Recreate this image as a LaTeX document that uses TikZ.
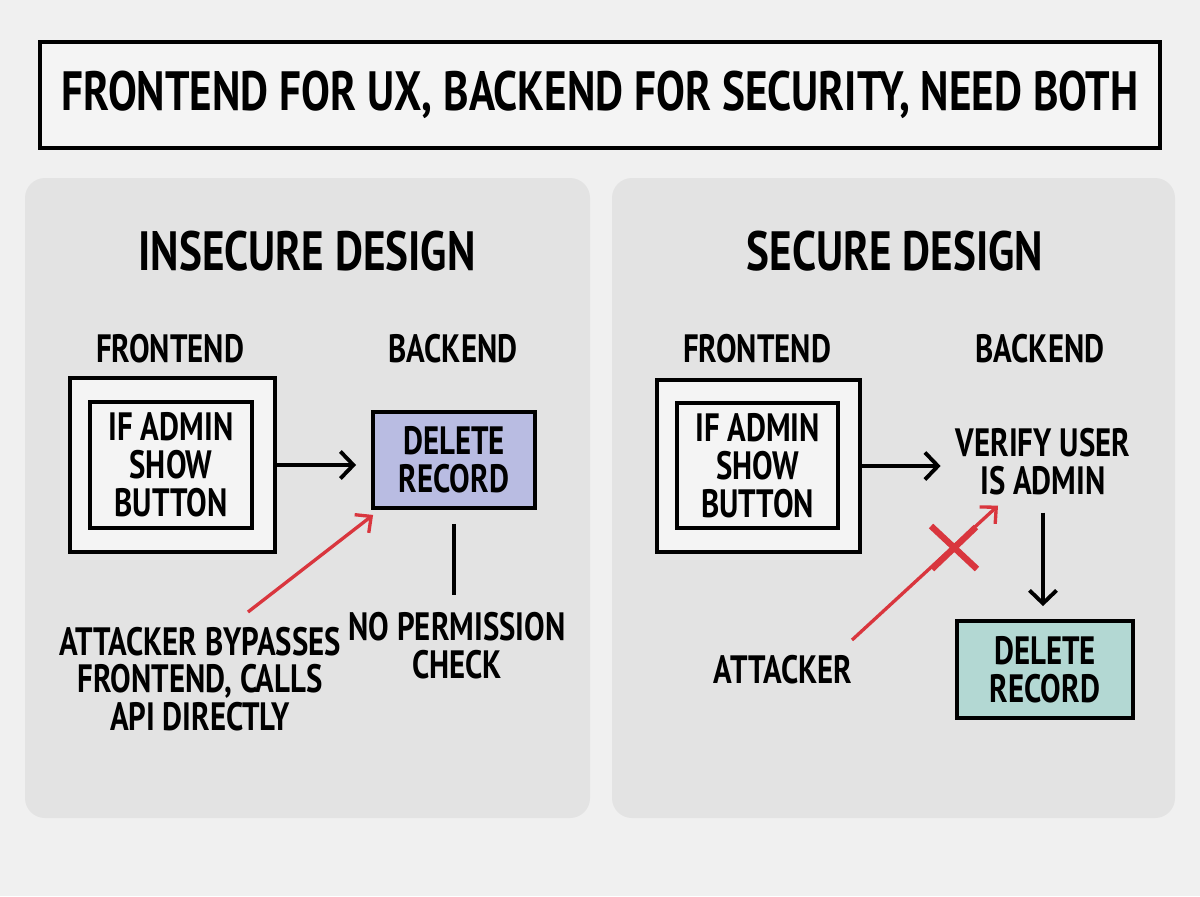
\documentclass[tikz,border=0pt]{standalone}
\usepackage{fontspec}
\setmainfont{PT Sans}[FakeStretch=0.78]
\usetikzlibrary{arrows.meta}
\definecolor{pagebg}{HTML}{F0F0F0}
\definecolor{panelbg}{HTML}{E3E3E3}
\definecolor{boxbg}{HTML}{F4F4F4}
\definecolor{lavender}{HTML}{B9BCE2}
\definecolor{mint}{HTML}{B3D8D3}
\definecolor{alertred}{HTML}{D9363E}
\begin{document}
\begin{tikzpicture}[x=0.02cm, y=-0.02cm,
    txt/.style={font=\bfseries\fontsize{22.5}{21.5}\selectfont, align=center, inner sep=0pt},
    heading/.style={font=\bfseries\fontsize{31.5}{33}\selectfont, inner sep=0pt},
    frame/.style={draw, line width=2.2pt},
    panel/.style={fill=panelbg, rounded corners=0.4cm},
    link/.style={line width=2.2pt, -{Straight Barb[length=2.6mm, width=5.4mm, line width=2.2pt]}},
    attack/.style={alertred, line width=1.9pt, -{Straight Barb[length=2.4mm, width=4.6mm, line width=1.9pt]}}]
    \useasboundingbox[fill=pagebg] (0,0) rectangle (1200,896);

    \fill[panel] (25,178) rectangle (590,818);
    \fill[panel] (612,178) rectangle (1175,818);

    \node[frame, fill=boxbg, minimum width=22.4cm, minimum height=2.12cm, heading] (title) at (600,95) {FRONTEND FOR UX, BACKEND FOR SECURITY, NEED BOTH};

    \node[heading] (insecure) at (307,251) {INSECURE DESIGN};
    \node[txt] (lfronthead) at (170,349) {FRONTEND};
    \node[txt] (lbackhead) at (453,349) {BACKEND};
    \node[frame, fill=boxbg, minimum width=4.1cm, minimum height=3.48cm] (lfront) at (172.5,465) {};
    \node[frame, minimum width=3.24cm, minimum height=2.52cm, txt] (lcheck) at (171,465) {IF ADMIN\\SHOW\\BUTTON};
    \node[frame, fill=lavender, minimum width=3.24cm, minimum height=1.92cm, txt] (ldelete) at (454,460) {DELETE\\RECORD};
    \node[txt] (lnoperm) at (457,646) {NO PERMISSION\\CHECK};
    \node[txt] (lattacker) at (200,679) {ATTACKER BYPASSES\\FRONTEND, CALLS\\API DIRECTLY};
    \coordinate (lattackstart) at (248,612);

    \draw[link, shorten >=0.3cm] (lfront.east) -- (lfront.east -| ldelete.west);
    \draw[line width=2.2pt, shorten <=0.28cm, shorten >=0.34cm] (ldelete.south) -- (ldelete.south |- lnoperm.north);
    \draw[attack] (lattackstart) -- ([shift={(0.04cm,-0.1cm)}]ldelete.south west);

    \node[heading] (secure) at (895,251) {SECURE DESIGN};
    \node[txt] (rfronthead) at (757,349) {FRONTEND};
    \node[txt] (rbackhead) at (1040,349) {BACKEND};
    \node[frame, fill=boxbg, minimum width=4.06cm, minimum height=3.44cm] (rfront) at (758.5,466) {};
    \node[frame, minimum width=3.22cm, minimum height=2.5cm, txt] (rcheck) at (757.5,465.5) {IF ADMIN\\SHOW\\BUTTON};
    \node[txt] (rverify) at (1043,462) {VERIFY USER\\IS ADMIN};
    \node[frame, fill=mint, minimum width=3.52cm, minimum height=1.94cm, txt] (rdelete) at (1045,669.5) {DELETE\\RECORD};
    \node[txt] (rattacker) at (783,670) {ATTACKER};
    \coordinate (rattackstart) at (852,640);

    \draw[link, shorten >=0.3cm] (rfront.east) -- (rfront.east -| rverify.west);
    \draw[link, shorten <=0.34cm, shorten >=0.26cm] (rverify.south) -- (rverify.south |- rdelete.north);
    \draw[attack] (rattackstart) -- ([xshift=-0.9cm, yshift=-0.2cm]rverify.south);
    \draw[alertred, line width=3.6pt] (931,526) -- (977,569) (976,527) -- (932,569);
\end{tikzpicture}
\end{document}
